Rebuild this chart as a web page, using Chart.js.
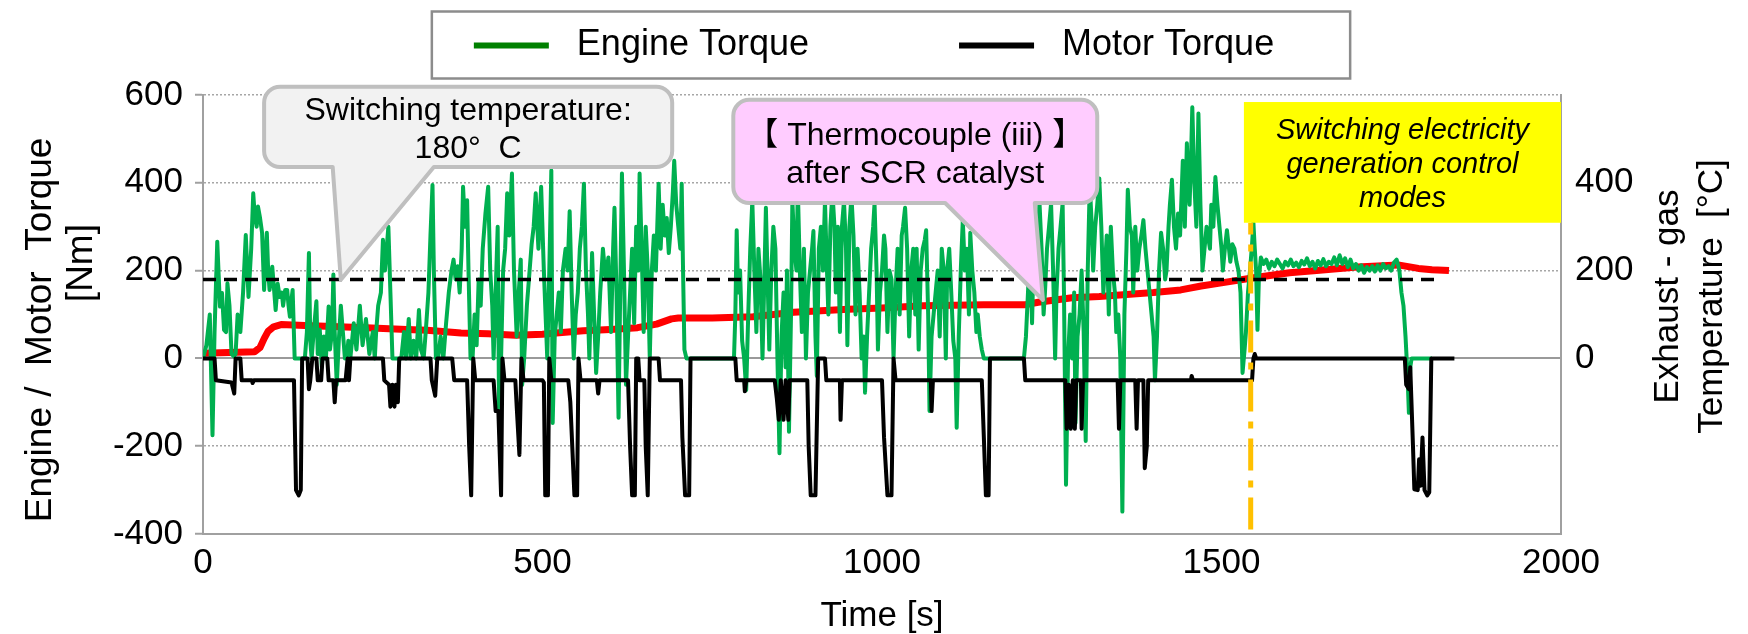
<!DOCTYPE html>
<html>
<head>
<meta charset="utf-8">
<script src="https://cdn.jsdelivr.net/npm/chart.js"></script>
<style>
  html, body { margin: 0; padding: 0; background: #fff; }
  canvas { display: block; }
</style>
</head>
<body>
<canvas id="myChart" width="1748" height="634"></canvas>
<script>
// [time s, torque Nm]
const engineTorque = [
  [0,0],[5,30],[10,100],[14,-175],[17,60],[21,266],[25,118],[28,149],[31,65],[34,60],[36,171],[39,120],[42,10],[45,5],[48,10],[51,100],[55,60],[59,150],[63,281],[67,140],[71,250],[74,376],[76,330],[79,300],[81,346],[84,320],[87,286],[90,156],[92,230],[94,286],[96,200],[98,156],[100,180],[102,209],[105,150],[107,110],[110,170],[113,140],[116,150],[118,120],[121,156],[124,156],[126,120],[128,95],[130,130],[132,156],[135,0],[146,0],
  [150,0],[153,60],[156,240],[158,40],[160,0],[163,60],[167,130],[169,10],[172,65],[175,-20],[178,50],[181,0],[185,118],[187,20],[190,60],[192,191],[194,60],[197,-60],[200,40],[203,120],[206,60],[209,0],[212,0],[214,40],[217,0],[222,80],[226,20],[231,120],[235,30],[240,90],[245,10],[250,60],[253,0],[255,60],[258,120],[262,150],[265,270],[268,200],[271,260],[273,300],[276,150],[279,0],[289,0],
  [292,0],[296,60],[299,0],[303,90],[306,0],[310,40],[314,0],[318,110],[321,20],[325,0],[328,60],[332,150],[335,280],[338,395],[340,200],[343,0],
  [346,0],[350,50],[354,0],[358,80],[362,150],[366,200],[369,225],[372,180],[375,210],[378,150],[381,250],[383,391],[386,300],[389,360],[391,200],[394,0],[397,0],[400,100],[403,30],[406,180],[409,120],[412,250],[416,331],[420,391],[423,200],[426,120],[428,0],[431,150],[434,300],[436,-115],[439,0],[442,200],[445,250],[448,376],[451,280],[455,421],[458,200],[462,50],[465,150],[468,225],[470,-60],[473,0],[477,120],[481,200],[484,260],[487,300],[490,376],[494,250],[498,391],[502,200],[505,80],[507,0],[510,200],[513,428],[515,-147],[518,50],[521,100],[524,150],[527,60],[530,200],[534,250],[537,200],[540,335],[543,150],[546,0],[549,100],[552,150],[555,250],[558,300],[561,398],[564,200],[567,100],[569,0],[573,240],[576,100],[579,-33],[582,50],
  [585,150],[589,250],[593,180],[597,230],[601,60],[604,250],[606,343],[609,150],[612,-135],[614,100],[617,421],[620,200],[623,-60],[626,50],[629,150],[632,250],[635,80],[638,300],[641,200],[643,421],[646,250],[649,60],[652,300],[655,200],[658,0],[661,200],[664,280],[667,200],[671,398],[674,250],[677,350],[680,280],[683,320],[686,240],[689,300],[692,380],[694,450],[697,350],[700,300],[703,250],[705,398],[707,200],[709,20],[712,0],[782,0],
  [784,100],[786,292],[788,150],[791,200],[794,40],[797,0],[800,-72],[803,100],[806,250],[809,359],[812,200],[815,60],[818,250],[821,180],[824,0],[827,200],[829,343],[832,150],[834,20],[837,200],[840,300],[843,250],[846,0],[849,-216],[852,50],[855,150],[858,-20],[860,200],[863,-167],[866,100],[868,359],[871,250],[874,200],[876,390],[879,200],[882,60],[885,250],[888,0],[891,150],[894,200],[897,250],[899,290],[902,50],[904,-40],[907,250],[910,300],[913,200],[916,359],[918,250],[921,100],[924,300],[927,380],[930,300],[932,150],[935,300],[938,60],[941,300],[944,359],[947,250],[949,30],[952,300],[955,370],[958,280],[961,100],[964,250],[967,150],[970,0],[973,50],[975,-78],[978,50],[981,150],[984,250],[987,300],[989,353],[992,200],[994,20],[997,150],[1000,200],[1003,280],[1005,250],[1008,60],[1011,200],[1014,180],[1017,0],[1020,150],[1023,250],[1026,100],[1029,280],[1031,300],[1034,343],[1037,250],[1040,50],[1043,200],[1046,250],[1049,100],[1051,250],[1054,20],[1057,200],[1060,250],[1063,270],[1065,292],[1068,100],[1070,-120],[1073,50],[1076,100],[1079,150],[1082,200],[1085,50],[1088,250],[1091,200],[1094,0],[1096,200],[1099,250],[1102,150],[1105,40],[1108,0],[1110,-158],[1113,50],[1116,200],[1119,315],[1122,200],[1125,250],[1128,100],[1130,286],[1133,200],[1136,150],[1139,60],[1141,100],[1144,50],[1147,20],[1150,0],[1209,0],
  [1212,50],[1215,150],[1218,250],[1221,80],[1224,280],[1227,200],[1230,300],[1232,353],[1235,250],[1238,100],[1240,150],[1243,250],[1246,300],[1249,353],[1252,200],[1255,0],[1257,150],[1260,250],[1263,300],[1266,353],[1268,150],[1271,-288],[1274,0],[1277,100],[1280,0],[1283,150],[1285,-147],[1288,50],[1291,100],[1294,200],[1297,60],[1300,-188],[1303,200],[1306,398],[1309,300],[1311,200],[1314,300],[1317,350],[1320,410],[1323,300],[1326,150],[1328,200],[1331,280],[1334,100],[1337,300],[1340,200],[1343,150],[1345,60],[1348,100],[1351,0],[1354,-349],[1357,100],[1360,250],[1362,384],[1365,300],[1368,280],[1370,150],[1373,300],[1376,200],[1379,250],[1382,280],[1385,315],[1388,250],[1391,200],[1394,150],[1397,100],[1400,50],[1402,-50],[1405,50],[1408,200],[1411,286],[1414,250],[1417,180],[1419,200],[1422,300],[1424,350],[1427,407],[1430,300],[1433,250],[1436,330],[1439,280],
  [1443,450],[1446,300],[1449,490],[1451,400],[1453,350],[1455,450],[1457,572],[1460,400],[1463,300],[1466,558],[1469,350],[1472,200],[1475,250],[1478,300],[1480,280],[1483,250],[1485,350],[1488,300],[1491,413],[1494,350],[1497,300],[1500,250],[1502,200],[1505,250],[1508,292],[1511,250],[1513,220],[1516,260],[1519,250],[1522,220],[1525,200],[1528,150],[1531,-33],[1534,20],[1536,60],[1539,150],[1542,200],[1545,260],[1547,309],[1549,250],[1551,200],[1553,65],[1555,180],[1558,230],
  [1562,215],[1566,225],[1570,205],[1574,220],[1578,210],[1582,225],[1586,215],[1590,205],[1594,220],[1598,212],[1602,225],[1606,210],[1610,218],[1614,208],[1618,222],[1622,214],[1626,228],[1630,210],[1634,220],[1638,205],[1642,222],[1646,212],[1650,226],[1654,210],[1658,220],[1662,215],[1666,230],[1670,212],[1674,235],[1678,215],[1682,228],[1686,208],[1690,225],[1694,205],[1698,215],[1702,200],[1706,212],[1710,195],[1714,208],[1718,200],[1722,210],[1726,198],[1730,212],[1734,200],[1738,215],[1742,205],[1746,210],[1750,200],[1754,218],[1758,225],[1762,200],[1765,150],[1768,120],[1771,50],[1774,-40],[1776,-124],[1778,-20],[1780,0],[1810,0]
];

// [time s, torque Nm]
const motorTorque = [
  [0,0],[17,0],[19,-50],[42,-55],[46,-80],[48,0],[55,0],[57,-50],[72,-50],[73,-56],[75,-50],[134,-50],[137,-300],[141,-312],[144,-300],[146,0],[154,0],[156,-70],[158,-50],[161,0],[167,0],[169,-50],[174,-50],[176,0],[183,0],[185,-50],[192,-50],[194,-100],[196,-50],[210,-50],[213,0],[215,-50],[217,0],[265,0],[267,-50],[274,-60],[276,-110],[279,-60],[282,-110],[284,-60],[287,-100],[289,0],[335,0],[337,-50],[342,-85],[345,0],[367,0],[370,-50],[389,-50],[392,-200],[395,-312],[398,0],[401,-50],[428,-50],[431,-120],[435,-120],[439,-312],[441,0],[444,-50],[460,-50],[462,-110],[466,-220],[469,0],[472,-50],[500,-50],[502,-55],[504,-312],[508,-312],[510,0],[513,-50],[538,-50],[541,-100],[547,-312],[551,-312],[553,0],[556,-50],[580,-50],[582,-80],[584,-50],
  [626,-50],[629,-200],[632,-312],[636,-312],[638,0],[641,0],[643,-50],[650,-50],[652,-200],[655,-312],[658,0],[671,0],[673,-50],[704,-50],[706,-180],[710,-312],[716,-312],[718,0],[784,0],[786,-50],[797,-50],[798,-75],[800,-50],[842,-50],[845,-90],[848,-140],[851,-50],[855,-140],[858,-50],[862,-140],[864,-50],[890,-50],[892,-200],[895,-312],[902,-312],[906,0],[916,0],[918,-50],[938,-50],[939,-140],[941,-50],[1000,-50],[1003,-180],[1008,-312],[1014,-312],[1017,0],[1020,-50],[1072,-50],[1073,-120],[1075,-50],[1147,-50],[1150,-180],[1153,-312],[1157,-312],[1159,0],[1209,0],[1211,-50],
  [1270,-50],[1272,-160],[1275,-60],[1278,-160],[1281,-50],[1284,-160],[1286,-50],[1293,-50],[1294,-160],[1296,-50],[1347,-50],[1349,-160],[1351,-50],[1373,-50],[1375,-160],[1377,-50],[1385,-50],[1387,-250],[1390,-200],[1392,-50],[1455,-50],[1456,-40],[1458,-50],[1545,-50],[1547,0],[1549,10],[1551,0],[1770,0],[1772,-60],[1776,-70],[1778,-20],[1782,-200],[1784,-298],[1789,-300],[1791,-230],[1793,-290],[1796,-180],[1799,-300],[1803,-312],[1806,-305],[1809,0],[1843,0]
];

// [time s, temperature °C] thermocouple (iii) after SCR catalyst
const exhaustTemp = [
  [0,12],[76,15],[84,25],[90,45],[96,62],[104,72],[115,77],[150,75],[200,72],[240,70],[300,66],[330,64],[380,58],[420,56],[460,53],[500,55],[520,58],[560,63],[600,66],[640,70],[668,78],[690,90],[700,92],[750,92],[810,95],[870,105],[950,112],[1000,115],[1060,120],[1150,122],[1210,122],[1230,128],[1280,138],[1320,141],[1400,150],[1440,156],[1470,165],[1500,172],[1545,183],[1600,195],[1640,200],[1700,208],[1760,213],[1790,205],[1810,202],[1835,200]
];

const switchTemp = 180;            // °C
const switchTempSpan = [0, 1820];  // s
const modeSwitchTime = 1543;       // s
const modeSwitchSpan = [-390, 309];
const xTickStep = 500;
const legendNames = ['Engine Torque', 'Motor Torque'];
const leftTitle = ['Engine /  Motor  Torque', '[Nm]'];
const rightTitle = ['Exhaust - gas', 'Temperature  [°C]'];

const pts = arr => arr.map(p => ({x: p[0], y: p[1]}));
const FONT = '"Liberation Sans", Arial, sans-serif';
Chart.defaults.font.family = FONT;
Chart.defaults.color = '#000';

// callouts given in data units: box [t0, t1, top, bottom], pointer base [t0, t1], tip [t, value]
const callouts = [
  { lines: ['Switching temperature:', '180°  C'], box: [90, 691, 619, 436], base: [191, 340], tip: [203, 179], fill: '#f2f2f2', dy: 3 },
  { lines: ['【 Thermocouple (iii) 】', 'after SCR catalyst'], box: [781, 1317, 589, 354], base: [1093, 1225], tip: [1237, 133], fill: '#ffccff', dy: 4 }
];
const modeNote = { lines: ['Switching electricity', 'generation control', 'modes'], box: [1533, 2000, 584, 309] };

const calloutPlugin = {
  id: 'callouts',
  afterDatasetsDraw(chart) {
    const {ctx, scales: {x, y}} = chart;
    ctx.save();
    callouts.forEach(c => {
      const l = x.getPixelForValue(c.box[0]), r = x.getPixelForValue(c.box[1]);
      const t = y.getPixelForValue(c.box[2]), b = y.getPixelForValue(c.box[3]);
      const b0 = x.getPixelForValue(c.base[0]), b1 = x.getPixelForValue(c.base[1]);
      const tx = x.getPixelForValue(c.tip[0]), ty = y.getPixelForValue(c.tip[1]);
      const rad = 16;
      ctx.beginPath();
      ctx.moveTo(l + rad, t);
      ctx.lineTo(r - rad, t); ctx.arcTo(r, t, r, t + rad, rad);
      ctx.lineTo(r, b - rad); ctx.arcTo(r, b, r - rad, b, rad);
      ctx.lineTo(b1, b); ctx.lineTo(tx, ty); ctx.lineTo(b0, b);
      ctx.lineTo(l + rad, b); ctx.arcTo(l, b, l, b - rad, rad);
      ctx.lineTo(l, t + rad); ctx.arcTo(l, t, l + rad, t, rad);
      ctx.closePath();
      ctx.fillStyle = c.fill; ctx.fill();
      ctx.lineWidth = 4; ctx.strokeStyle = '#bfbfbf'; ctx.lineJoin = 'round'; ctx.stroke();
      ctx.fillStyle = '#000';
      ctx.font = '32px ' + FONT + ', "Noto Sans CJK JP"';
      ctx.textAlign = 'center'; ctx.textBaseline = 'middle';
      const cx = (l + r) / 2, cy = (t + b) / 2 + c.dy;
      c.lines.forEach((s, i) => ctx.fillText(s, cx, cy + (i - (c.lines.length - 1) / 2) * 38));
    });
    // yellow note
    const n = modeNote;
    const l = x.getPixelForValue(n.box[0]), r = x.getPixelForValue(n.box[1]);
    const t = y.getPixelForValue(n.box[2]), b = y.getPixelForValue(n.box[3]);
    ctx.fillStyle = '#ffff00';
    ctx.fillRect(l, t, r - l, b - t);
    ctx.fillStyle = '#000';
    ctx.font = 'italic 29px ' + FONT;
    ctx.textAlign = 'center'; ctx.textBaseline = 'middle';
    n.lines.forEach((s, i) => ctx.fillText(s, (l + r) / 2, (t + b) / 2 + 3 + (i - 1) * 34));
    ctx.restore();
  }
};

const frameAndTitlePlugin = {
  id: 'frameAndTitle',
  afterDraw(chart) {
    const ctx = chart.ctx;
    ctx.save();
    // legend frame
    const hb = chart.legend.legendHitBoxes;
    if (hb && hb.length) {
      const first = hb[0], last = hb[hb.length - 1];
      const cy = first.top + first.height / 2;
      const left = first.left - 42, right = last.left + last.width + 76;
      ctx.strokeStyle = '#8c8c8c'; ctx.lineWidth = 2.5;
      ctx.strokeRect(left, cy - 34, right - left, 67);
    }
    // right axis title, reading bottom to top
    const s = chart.scales.y2;
    const cy = (s.top + s.bottom) / 2 - 18;
    ctx.fillStyle = '#000';
    ctx.font = '35px ' + FONT;
    ctx.textAlign = 'center'; ctx.textBaseline = 'middle';
    rightTitle.forEach((line, i) => {
      ctx.save();
      ctx.translate(s.left + 107 + i * 44, cy);
      ctx.rotate(-Math.PI / 2);
      ctx.fillText(line, 0, 0);
      ctx.restore();
    });
    ctx.restore();
  }
};

const gridColor = '#a0a0a0';

new Chart(document.getElementById('myChart'), {
  type: 'line',
  data: {
    datasets: [
      { label: 'Mode switch', data: [{x: modeSwitchTime, y: modeSwitchSpan[0]}, {x: modeSwitchTime, y: modeSwitchSpan[1]}],
        borderColor: '#ffc000', borderWidth: 5, borderDash: [32, 10, 7, 10], order: 0 },
      { label: 'Switching temperature', data: switchTempSpan.map(t => ({x: t, y: switchTemp})), yAxisID: 'y2',
        borderColor: '#000', borderWidth: 3.5, borderDash: [13, 8], order: 1 },
      { label: legendNames[1], data: pts(motorTorque), borderColor: '#000', borderWidth: 4, order: 2 },
      { label: legendNames[0], data: pts(engineTorque), borderColor: '#00b050', borderWidth: 4, order: 3 },
      { label: 'Exhaust-gas temperature', data: pts(exhaustTemp), yAxisID: 'y2', borderColor: '#ff0000', borderWidth: 7, order: 4 }
    ]
  },
  options: {
    responsive: false,
    animation: false,
    events: [],
    elements: { point: { radius: 0 }, line: { tension: 0, borderJoinStyle: 'round', fill: false } },
    layout: { padding: { top: 17.5, left: 0, right: 0, bottom: 0 } },
    plugins: {
      tooltip: { enabled: false },
      legend: {
        position: 'top',
        labels: {
          font: { size: 36 },
          color: '#000',
          boxWidth: 75,
          boxHeight: 6,
          padding: 10,
          generateLabels: () => [
            { text: ' ' + legendNames[0] + ' '.repeat(14), fillStyle: '#008000', strokeStyle: '#008000', lineWidth: 0, hidden: false, datasetIndex: 3 },
            { text: ' ' + legendNames[1], fillStyle: '#000', strokeStyle: '#000', lineWidth: 0, hidden: false, datasetIndex: 2 }
          ]
        }
      },
      // empty spacer between legend and plot
      subtitle: { display: true, text: '', position: 'top', weight: 500, font: { size: 1, lineHeight: 1 }, padding: { top: 11, bottom: 9.5 } }
    },
    scales: {
      x: {
        type: 'linear', min: 0, max: 2000,
        ticks: { stepSize: xTickStep, callback: v => String(v), font: { size: 35, lineHeight: 1.2 }, color: '#000', padding: 8, maxRotation: 0, autoSkip: false },
        grid: { display: false, drawTicks: false },
        border: { display: true, color: gridColor, width: 2 },
        title: { display: true, text: 'Time [s]', font: { size: 35, lineHeight: 1 }, color: '#000', padding: { top: 0, bottom: 0 } },
        afterFit: s => { s.height = 100; }
      },
      y: {
        type: 'linear', position: 'left', min: -400, max: 600,
        ticks: { stepSize: 200, font: { size: 35 }, color: '#000', padding: 12 },
        grid: {
          color: c => (c.tick && c.tick.value === 0) ? '#9a9a9a' : '#a6a6a6',
          lineWidth: c => (c.tick && c.tick.value === 0) ? 2 : 1.5,
          tickLength: 8, tickColor: gridColor, tickWidth: 2
        },
        border: { display: true, color: gridColor, width: 2, dash: c => (c.tick && c.tick.value !== 0) ? [2, 2] : [] },
        // spaces keep each line where the reference has it along the axis
        title: { display: true, text: [leftTitle[0] + '   ', ' '.repeat(10) + leftTitle[1]], font: { size: 37, lineHeight: 1.1 }, color: '#000', padding: { top: 20.5, bottom: 0 } },
        afterFit: s => { s.width = 203; }
      },
      y2: {
        type: 'linear', position: 'right', min: -400, max: 600,
        ticks: { stepSize: 200, font: { size: 35 }, color: '#000', padding: 14, callback: v => (v >= 0 && v <= 400) ? v : '' },
        grid: { drawOnChartArea: false, drawTicks: false },
        border: { display: true, color: gridColor, width: 2 },
        afterFit: s => { s.width = 187; }
      }
    }
  },
  plugins: [calloutPlugin, frameAndTitlePlugin]
});
</script>
</body>
</html>
